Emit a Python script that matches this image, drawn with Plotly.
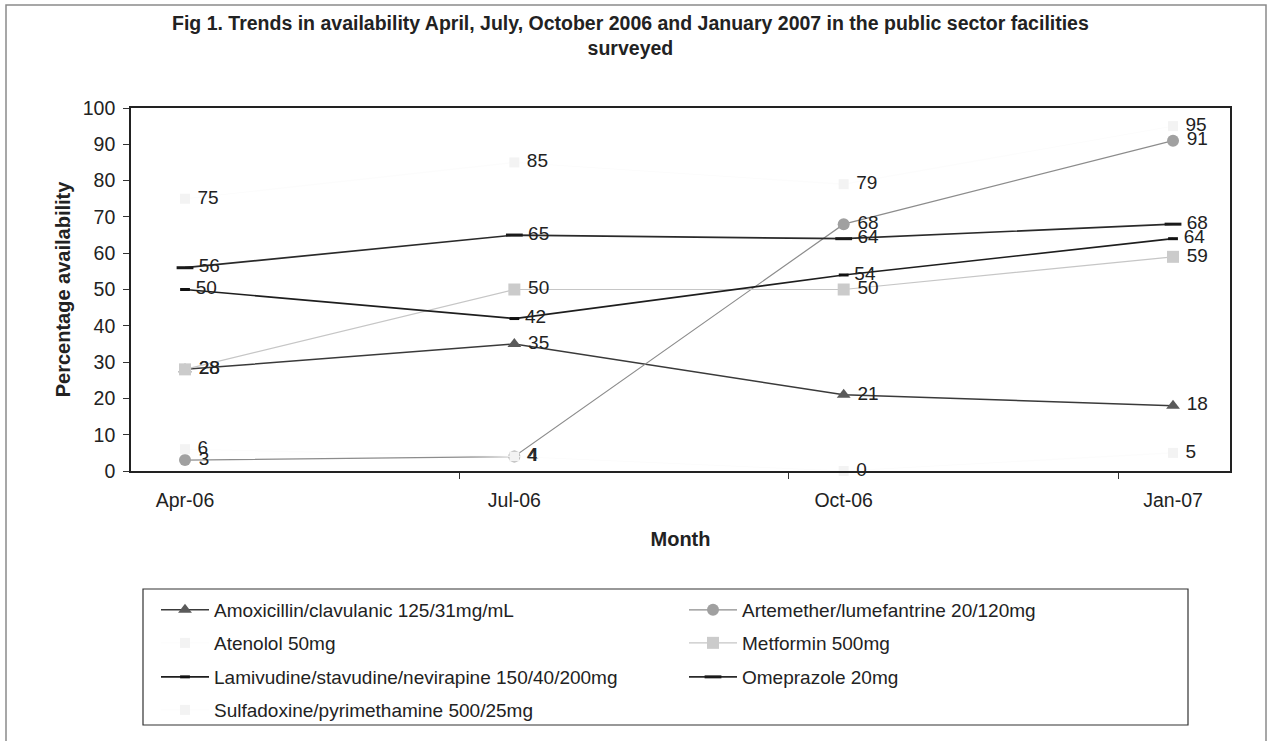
import plotly.graph_objects as go

# Survey rounds (x categories)
months = ["Apr-06", "Jul-06", "Oct-06", "Jan-07"]

# Percentage of public sector facilities with each medicine available
amoxicillin = [28, 35, 21, 18]
artemether = [3, 4, 68, 91]
atenolol = [75, 85, 79, 95]
metformin = [28, 50, 50, 59]
lamivudine = [50, 42, 54, 64]
omeprazole = [56, 65, 64, 68]
sulfadoxine = [6, 4, 0, 5]

names = [
    "Amoxicillin/clavulanic 125/31mg/mL",
    "Artemether/lumefantrine 20/120mg",
    "Atenolol 50mg",
    "Metformin 500mg",
    "Lamivudine/stavudine/nevirapine 150/40/200mg",
    "Omeprazole 20mg",
    "Sulfadoxine/pyrimethamine 500/25mg",
]
series = [amoxicillin, artemether, atenolol, metformin, lamivudine, omeprazole, sulfadoxine]
# legend row each series is listed in (two entries per row)
legend_rows = ["legend", "legend", "legend2", "legend2", "legend3", "legend3", "legend4"]

styles = [
    dict(line=dict(color="#3a3a3a", width=1.5),
         marker=dict(symbol="triangle-up", size=12, color="#5a5a5a")),
    dict(line=dict(color="#8c8c8c", width=1.2),
         marker=dict(symbol="circle", size=12, color="#a0a0a0")),
    dict(line=dict(color="#fcfcfc", width=1),
         marker=dict(symbol="square", size=10, color="#f3f3f3")),
    dict(line=dict(color="#c6c6c6", width=1.2),
         marker=dict(symbol="square", size=12, color="#cbcbcb")),
    dict(line=dict(color="#1e1e1e", width=1.7),
         marker=dict(symbol="line-ew", size=7, color="#111111",
                     line=dict(width=3, color="#111111"))),
    dict(line=dict(color="#2a2a2a", width=1.7),
         marker=dict(symbol="line-ew", size=12, color="#1a1a1a",
                     line=dict(width=3, color="#1a1a1a"))),
    dict(line=dict(color="#fcfcfc", width=1),
         marker=dict(symbol="square", size=10, color="#f3f3f3")),
]

FONT = "Liberation Sans, Arial, sans-serif"
TXT = "#222222"
xpos = list(range(len(months)))

fig = go.Figure()
for name, vals, st, lg in zip(names, series, styles, legend_rows):
    fig.add_trace(go.Scatter(
        x=xpos, y=vals, name=name, mode="lines+markers+text",
        text=[str(v) for v in vals], texttemplate="\u00a0%{text}",
        textposition="middle right",
        textfont=dict(family=FONT, size=19, color=TXT),
        cliponaxis=False, legend=lg, **st,
    ))

# invisible trace carrying the category labels on the overlaid axis
fig.add_trace(go.Scatter(x=xpos, y=[None] * len(xpos), xaxis="x2",
                         showlegend=False, hoverinfo="skip"))

# plot area geometry in pixels (used to place legend rows and frames)
W, H = 1268, 741
L, R, T, B = 131, 38, 108, 270
pw, ph = W - L - R, H - T - B


def px_x(x):
    return (x - L) / pw


def px_y(y):
    return (H - B - y) / ph


legend_common = dict(
    orientation="h", xanchor="left", yanchor="middle",
    entrywidth=465, entrywidthmode="pixels", itemwidth=48,
    borderwidth=0, bgcolor="rgba(0,0,0,0)",
    font=dict(family=FONT, size=19, color=TXT), traceorder="normal",
)
row_centers = [610, 643, 677, 710]
legend_left = 156

xrange = [-0.164, 3.173]
fig.update_layout(
    width=W, height=H,
    margin=dict(l=L, r=R, t=T, b=B, autoexpand=False),
    paper_bgcolor="white", plot_bgcolor="white",
    font=dict(family=FONT, color=TXT),
    xaxis=dict(
        range=xrange, tickvals=[-0.167, 0.833, 1.833, 2.833],
        showticklabels=False, ticks="outside", ticklen=6, tickcolor="#333",
        showgrid=False, zeroline=False,
        showline=True, mirror=True, linecolor="#222222", linewidth=1.6,
    ),
    xaxis2=dict(
        overlaying="x", anchor="y", side="bottom", range=xrange,
        tickvals=xpos, ticktext=months, ticks="", showline=False,
        showgrid=False, zeroline=False, ticklabelstandoff=15,
        tickfont=dict(family=FONT, size=19.5, color=TXT),
        title=dict(text="<b>Month</b>", standoff=22,
                   font=dict(family=FONT, size=20, color=TXT)),
    ),
    yaxis=dict(
        range=[0, 100], dtick=10, ticks="outside", ticklen=6, tickcolor="#333",
        showgrid=False, zeroline=False,
        showline=True, mirror=True, linecolor="#222222", linewidth=1.6,
        tickfont=dict(family=FONT, size=19.5, color=TXT),
        ticklabelstandoff=4,
        title=dict(text="<b>Percentage availability</b>", standoff=7,
                   font=dict(family=FONT, size=20, color=TXT)),
    ),
    legend=dict(x=px_x(legend_left), y=px_y(row_centers[0]), **legend_common),
    legend2=dict(x=px_x(legend_left), y=px_y(row_centers[1]), **legend_common),
    legend3=dict(x=px_x(legend_left), y=px_y(row_centers[2]), **legend_common),
    legend4=dict(x=px_x(legend_left), y=px_y(row_centers[3]), **legend_common),
    showlegend=True,
)

fig.add_annotation(
    text="<b>Fig 1. Trends in availability April, July, October 2006 and January 2007 in the public sector facilities<br>surveyed</b>",
    xref="paper", yref="paper", x=px_x(630), y=px_y(35),
    xanchor="center", yanchor="middle", showarrow=False,
    font=dict(family=FONT, size=19.5, color=TXT),
)

# box around the legend rows
fig.add_shape(type="rect", xref="paper", yref="paper",
              x0=px_x(143), x1=px_x(1188), y0=px_y(725), y1=px_y(589),
              line=dict(color="#333333", width=1.2), layer="below")

# outer frame around the whole figure
fig.add_shape(type="rect", xref="paper", yref="paper",
              x0=px_x(6), x1=px_x(1266), y0=px_y(748), y1=px_y(5),
              line=dict(color="#8a8a8a", width=1.5), layer="below")

fig.write_html("out.html")
